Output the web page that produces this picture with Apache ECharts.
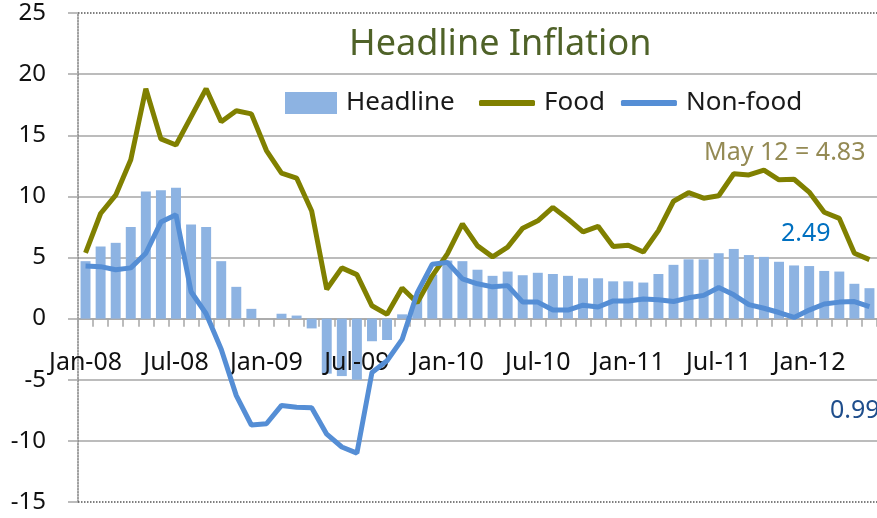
<!DOCTYPE html>
<html>
<head>
<meta charset="utf-8">
<script src="https://cdn.jsdelivr.net/npm/echarts@6/dist/echarts.min.js"></script>
<style>
html,body{margin:0;padding:0;background:#fff;}
#chart{width:877px;height:518px;}
</style>
</head>
<body>
<div id="chart"></div>
<script>
var months = ['Jan-08','Feb-08','Mar-08','Apr-08','May-08','Jun-08','Jul-08','Aug-08','Sep-08','Oct-08','Nov-08','Dec-08',
'Jan-09','Feb-09','Mar-09','Apr-09','May-09','Jun-09','Jul-09','Aug-09','Sep-09','Oct-09','Nov-09','Dec-09',
'Jan-10','Feb-10','Mar-10','Apr-10','May-10','Jun-10','Jul-10','Aug-10','Sep-10','Oct-10','Nov-10','Dec-10',
'Jan-11','Feb-11','Mar-11','Apr-11','May-11','Jun-11','Jul-11','Aug-11','Sep-11','Oct-11','Nov-11','Dec-11',
'Jan-12','Feb-12','Mar-12','Apr-12','May-12'];

var headline = [4.7,5.9,6.2,7.5,10.4,10.5,10.7,7.7,7.5,4.7,2.6,0.8,
0.0,0.4,0.25,-0.8,-4.5,-4.7,-5.0,-1.85,-1.75,0.35,1.9,3.6,
4.75,4.7,4.0,3.5,3.85,3.55,3.75,3.65,3.5,3.3,3.3,3.05,
3.05,2.95,3.65,4.4,4.85,4.85,5.35,5.7,5.2,5.05,4.65,4.35,
4.3,3.9,3.85,2.85,2.49];

var food = [5.37,8.6,10.1,13.0,18.8,14.7,14.2,16.5,18.8,16.1,17.0,16.75,
13.75,11.9,11.5,8.8,2.4,4.15,3.6,1.05,0.35,2.5,1.3,3.5,
5.3,7.75,5.95,5.05,5.85,7.4,8.0,9.1,8.15,7.1,7.55,5.9,
6.0,5.45,7.2,9.6,10.3,9.85,10.05,11.85,11.75,12.15,11.35,11.4,
10.35,8.7,8.2,5.35,4.83];

var nonFood = [4.3,4.25,4.0,4.15,5.35,7.9,8.5,2.2,0.4,-2.5,-6.3,-8.7,
-8.6,-7.1,-7.25,-7.3,-9.45,-10.5,-11.0,-4.4,-3.45,-1.7,2.1,4.45,
4.6,3.25,2.85,2.6,2.7,1.35,1.35,0.7,0.7,1.1,0.95,1.45,
1.45,1.6,1.55,1.4,1.7,1.9,2.55,1.95,1.15,0.85,0.5,0.1,
0.7,1.2,1.35,1.4,0.99];

var yTicks = [-15,-10,-5,0,5,10,15,20,25];

var FONT = '"Noto Sans", "DejaVu Sans", sans-serif';
var grey = '#a6a6a6';

var chart = echarts.init(document.getElementById('chart'), null, {renderer:'canvas'});
chart.setOption({
  animation: false,
  backgroundColor: '#ffffff',
  textStyle: {fontFamily: FONT},
  title: {
    text: 'Headline Inflation',
    left: 344, top: 22,
    textStyle: {fontFamily: FONT, fontSize: 36, fontWeight: 'normal', color: '#4f6228'}
  },
  legend: [
    {
      left: 280, top: 85,
      itemWidth: 52, itemHeight: 22,
      textStyle: {fontFamily: FONT, fontSize: 26, color: '#1a1a1a', padding: [0,0,0,4]},
      data: [{name: 'Headline', icon: 'rect'}]
    },
    {
      left: 474, top: 85,
      itemWidth: 56, itemHeight: 6, itemGap: 16,
      textStyle: {fontFamily: FONT, fontSize: 26, color: '#1a1a1a', padding: [0,0,0,4]},
      data: [{name: 'Food', icon: 'roundRect'}, {name: 'Non-food', icon: 'roundRect'}]
    }
  ],
  grid: {left: 78, right: 0, top: 13, bottom: 16, containLabel: false, outerBoundsMode: 'none'},
  xAxis: [
    {
      type: 'category',
      data: months,
      boundaryGap: true,
      axisLine: {onZero: true, lineStyle: {color: grey, width: 1.5}},
      axisTick: {show: true, interval: 0, length: 8, lineStyle: {color: grey, width: 1.5}},
      axisLabel: {show: false},
      splitLine: {show: false}
    },
    {
      type: 'category',
      data: months,
      boundaryGap: true,
      position: 'bottom',
      offset: -183,
      z: 2,
      axisLine: {show: false, onZero: false},
      axisTick: {show: false},
      axisLabel: {show: true, interval: 5, margin: 31, fontFamily: FONT, fontSize: 25, color: '#111'},
      splitLine: {show: false}
    }
  ],
  yAxis: {
    type: 'value',
    min: yTicks[0], max: yTicks[yTicks.length-1], interval: 5,
    axisLine: {show: true, lineStyle: {color: '#808080', width: 1.5, type: 'dotted'}},
    axisTick: {show: true, inside: false, length: 10, lineStyle: {color: grey, width: 1.5}},
    axisLabel: {margin: 32, fontFamily: FONT, fontSize: 24, color: '#111'},
    splitLine: {show: true, lineStyle: {color: ['transparent', grey, grey, grey, grey, grey, grey, grey, 'transparent'], width: 1.5}}
  },
  series: [
    {
      name: 'Headline', type: 'bar', data: headline, xAxisIndex: 0,
      barCategoryGap: '34%',
      itemStyle: {color: '#8db3e2'},
      z: 1,
      markLine: {
        silent: true, symbol: 'none', label: {show: false},
        lineStyle: {color: '#555', type: 'dotted', width: 1.5},
        data: [{yAxis: yTicks[0]}, {yAxis: yTicks[yTicks.length-1]}]
      }
    },
    {
      name: 'Food', type: 'line', data: food, xAxisIndex: 0,
      symbol: 'none', showSymbol: false,
      lineStyle: {color: '#808000', width: 5},
      itemStyle: {color: '#808000'},
      z: 3
    },
    {
      name: 'Non-food', type: 'line', data: nonFood, xAxisIndex: 0,
      symbol: 'none', showSymbol: false,
      lineStyle: {color: '#558ed5', width: 5},
      itemStyle: {color: '#558ed5'},
      z: 4
    }
  ],
  graphic: [
    {type: 'text', left: 704, top: 140, style: {text: 'May 12 = 4.83', font: '25px ' + FONT, fill: '#948a54'}},
    {type: 'text', left: 781, top: 221, style: {text: '2.49', font: '25px ' + FONT, fill: '#0070c0'}},
    {type: 'text', left: 830, top: 398, style: {text: '0.99', font: '25px ' + FONT, fill: '#1f4e8c'}}
  ]
});
</script>
</body>
</html>
